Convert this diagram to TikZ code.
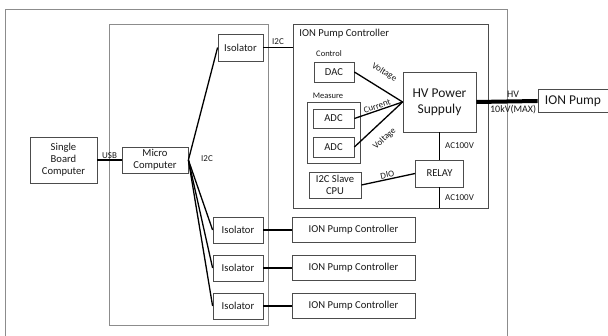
\documentclass[tikz,border=0pt]{standalone}
\usepackage{fontspec}
\setmainfont{Carlito}
\usetikzlibrary{positioning}

\begin{document}
\begin{tikzpicture}[x=1pt,y=-1pt,node distance=38pt,on grid,
    box/.style={draw=black!70,line width=.8pt,align=center,inner sep=1pt,text=black!90,font=\fontsize{10.6}{12}\selectfont},
    iso/.style={box,minimum width=50pt,minimum height=26pt},
    ctl/.style={box,minimum width=123pt,minimum height=25pt},
    frame/.style={draw=black!45,line width=.8pt},
    wire/.style={line width=1.3pt},
    lbl/.style={font=\fontsize{9}{10}\selectfont,inner sep=1pt,text=black!90},
    grp/.style={font=\fontsize{8.5}{10}\selectfont,inner sep=1pt,text=black!90}]
   \useasboundingbox (0,0) rectangle (608,336);
   \draw[frame] (5,336) -- (5,9) -- (507,9) -- (507,336);

   \node[box,minimum width=67pt,minimum height=46pt] (sbc) at (63.5,160) {Single\\Board\\Computer};
   \node[box,frame,minimum width=159pt,minimum height=301pt] (mcu_box) at (188.5,174.5) {};
   \node[box,minimum width=66pt,minimum height=26pt] (mc) at (155,160) {Micro\\Computer};
   \node[iso,minimum width=45pt,minimum height=27pt] (iso_1) at (240.5,47.5) {Isolator};
   \node[iso] (iso_2) at (238,230) {Isolator};
   \node[iso] (iso_3) [below=of iso_2] {Isolator};
   \node[iso] (iso_4) [below=of iso_3] {Isolator};
   \node[lbl] (i2c_bus) at (207,159) {I2C};

   \node[ctl] (ctl_2) [right=115.5pt of iso_2] {ION Pump Controller};
   \node[ctl] (ctl_3) [right=115.5pt of iso_3] {ION Pump Controller};
   \node[ctl] (ctl_4) [right=115.5pt of iso_4] {ION Pump Controller};

   % ion pump controller, detailed
   \node[box,minimum width=195pt,minimum height=184pt] (pc_box) at (390.5,116) {};
   \node[box,draw=none,anchor=west] (pc_title) at (298,34) {ION Pump Controller};
   \node[grp] (ctrl) at (329,54) {Control};
   \node[box,minimum width=40pt,minimum height=20pt] (dac) at (334,72) {DAC};
   \node[grp] (meas) at (328,96) {Measure};
   \node[box,minimum width=53pt,minimum height=61pt] (meas_box) at (333.5,132.5) {};
   \node[box,minimum width=41pt,minimum height=19pt] (adc_1) at (333.5,118.5) {ADC};
   \node[box,minimum width=41pt,minimum height=20pt] (adc_2) at (333.5,147) {ADC};
   \node[box,minimum width=52pt,minimum height=26pt] (slave) at (335,185) {I2C Slave\\CPU};
   \node[box,minimum width=73pt,minimum height=60pt,font=\fontsize{13.5}{16}\selectfont] (hvps) at (439.5,102) {HV Power\\Suppuly};
   \node[box,minimum width=48pt,minimum height=27pt] (relay) at (439.5,173.5) {RELAY};
   \node[box,minimum width=70pt,minimum height=23pt,font=\fontsize{13.5}{16}\selectfont] (pump) at (573,101) {ION Pump};

    \path[wire]
    (sbc) edge node[lbl,above] {USB} (mc)
    (mc.east) edge (iso_1.west)
              edge (iso_2.west)
              edge (iso_3.west)
              edge (iso_4.west)
    (iso_1.east) edge node[lbl,above=1pt] {I2C} (iso_1.east -| pc_box.west)
    (iso_2) edge (ctl_2)
    (iso_3) edge (ctl_3)
    (iso_4) edge (ctl_4)
    (dac.east) edge node[lbl,sloped,pos=.45,above=10pt] {Voltage} (hvps.west)
    (adc_1.east) edge node[lbl,sloped,pos=.5,above] {Current} (hvps.west)
    (adc_2.east) edge node[lbl,sloped,pos=.42,below=9pt] {Voltage} (hvps.west)
    (hvps) edge node[lbl,right=4pt] {AC100V} (relay)
    (relay.south) edge node[lbl,right=4pt] {AC100V} (relay.south |- pc_box.south)
    (slave.east) edge node[lbl,sloped,above] {DIO} (relay.west);
   \draw[line width=4pt] (hvps.east) -- node[grp,pos=.6,above=1pt,font=\fontsize{10}{12}\selectfont] {HV}
        node[grp,pos=.6,below=1pt,font=\fontsize{10}{12}\selectfont] {10kV(MAX)} (pump.west);
\end{tikzpicture}
\end{document}
